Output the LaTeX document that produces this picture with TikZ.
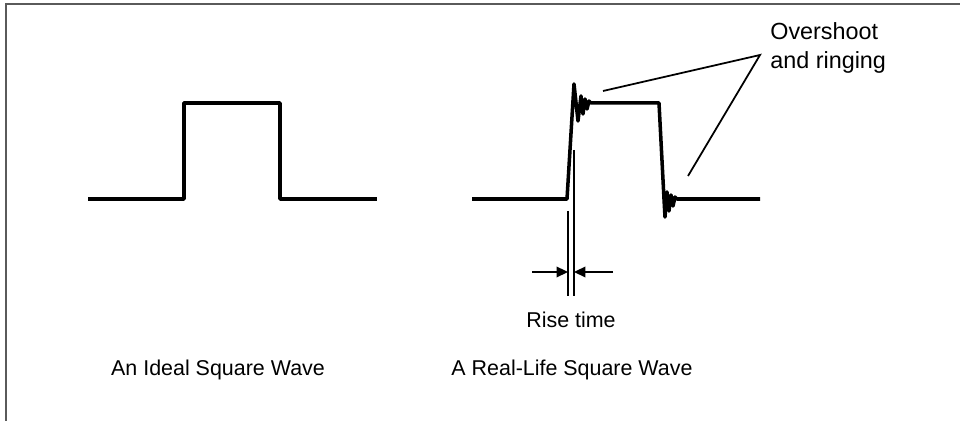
\documentclass[tikz,border=0pt]{standalone}
\usepackage{fontspec}
\setmainfont{Liberation Sans}
\usepackage{tikz}
\usetikzlibrary{arrows.meta}
\definecolor{FrameGray}{RGB}{90,90,90}
\tikzset{
  wave/.style={line width=2pt, line join=round, line cap=butt},
  leader/.style={line width=1pt},
  markline/.style={line width=1pt},
  dimarrow/.style={-{Triangle[length=6.5pt,width=6pt]}, line width=1pt},
  caption/.style={font=\fontsize{12.2}{17}\selectfont, inner sep=0pt},
  biglabel/.style={font=\fontsize{13.3}{17}\selectfont, inner sep=0pt},
}

\begin{document}
\begin{tikzpicture}[x=0.02cm, y=-0.02cm]
  \useasboundingbox (0,0) rectangle (960,421);
  % frame
  \draw[FrameGray, line width=0.7pt] (6,421) -- (6,4) -- (960,4);
  % ideal wave
  \draw[wave] (88,199) -- (184,199) -- (184,103) -- (280,103) -- (280,199) -- (377,199);
  % real wave with overshoot and ringing
  \draw[wave] (472,199) -- (567,199) -- (574,84) -- (578,121) -- (581,96) -- (583,114)
    -- (585,99) -- (587,109) -- (589,101) -- (591,103) -- (659,103) -- (664,199) -- (665,217)
    -- (667,192) -- (669,211) -- (671,195) -- (673,206) -- (675,197) -- (677,199) -- (760,199);
  % rise time markers
  \coordinate (rtA) at (568,211);
  \coordinate (rtB) at (574,150);
  \coordinate (rtAend) at (568,296);
  \coordinate (rtBend) at (574,296);
  \draw[markline] (rtA) -- (rtAend);
  \draw[markline] (rtB) -- (rtBend);
  \coordinate (arrL) at (532,272);
  \coordinate (arrR) at (613,272);
  \draw[dimarrow] (arrL) -- (rtA |- arrL);
  \draw[dimarrow] (arrR) -- (rtB |- arrR);
  \node[caption] (risetime) at (571,320) {Rise time};
  % overshoot label
  \node[biglabel, anchor=west, align=left] (overshoot) at (770,48) {Overshoot\\and ringing};
  \coordinate (apex) at (760,55);
  \coordinate (osTop) at (603,91);
  \coordinate (osBot) at (688,176);
  \draw[leader] (osTop) -- (apex) -- (osBot);
  % captions
  \node[caption] (idealcap) at (218,370) {An Ideal Square Wave};
  \node[caption] (realcap) at (572,370) {A Real-Life Square Wave};
\end{tikzpicture}
\end{document}
